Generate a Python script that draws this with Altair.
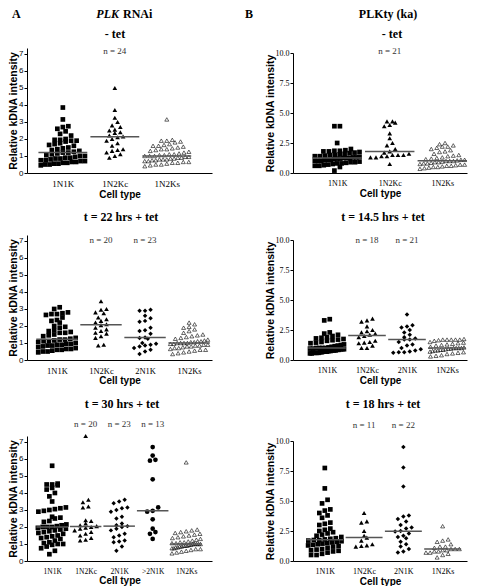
import altair as alt
import pandas as pd

SERIF = "Liberation Serif"
SANS = "Liberation Sans"

# ---------------- data ----------------
# Panel A (PLK RNAi), - tet
a1_cats = ["1N1K", "1N2Kc", "1N2Ks"]
a1_1N1K = [3.85, 3.15, 2.75, 2.7, 2.6, 2.45, 2.3, 2.2, 2.0, 1.95, 1.95, 1.9, 1.9, 1.85, 1.75, 1.7, 1.65, 1.6,
           1.5, 1.45, 1.4, 1.35, 1.3, 1.25, 1.2, 1.2, 1.15, 1.1, 1.05, 1.0, 1.0, 0.95, 0.9, 0.9, 0.85, 0.85,
           0.8, 0.75, 0.75, 0.7, 0.7, 0.65, 0.65, 0.6, 0.6, 0.55, 0.55, 0.5, 0.5, 0.45]
a1_1N2Kc = [5.0, 3.7, 3.25, 3.0, 2.8, 2.7, 2.55, 2.5, 2.4, 2.35, 2.2, 2.15, 2.1, 2.0, 1.9, 1.75, 1.6, 1.4,
            1.35, 1.3, 1.2, 1.1, 1.0, 0.9]
a1_1N2Ks = [3.15, 1.95, 1.9, 1.9, 1.85, 1.8, 1.7, 1.65, 1.6, 1.6, 1.55, 1.5, 1.45, 1.4, 1.4, 1.35, 1.3, 1.25,
            1.2, 1.15, 1.1, 1.1, 1.05, 1.05, 1.0, 1.0, 1.0, 0.95, 0.95, 0.9, 0.9, 0.85, 0.85, 0.8, 0.8, 0.8,
            0.75, 0.75, 0.7, 0.7, 0.65, 0.65, 0.6, 0.6, 0.55, 0.5, 0.5, 0.45, 0.4]
a1_n_cats = ["1N2Kc"]
a1_n_text = ["n = 24"]

# Panel A, t = 22 hrs + tet
a2_cats = ["1N1K", "1N2Kc", "2N1K", "1N2Ks"]
a2_1N1K = [3.1, 3.0, 2.8, 2.75, 2.7, 2.7, 2.65, 2.5, 2.35, 2.3, 2.2, 2.0, 1.95, 1.9, 1.75, 1.7, 1.65, 1.6,
           1.6, 1.5, 1.45, 1.4, 1.3, 1.25, 1.2, 1.2, 1.15, 1.1, 1.1, 1.05, 1.0, 0.95, 0.95, 0.9, 0.9, 0.85,
           0.85, 0.8, 0.75, 0.7, 0.65, 0.65, 0.6, 0.6, 0.55, 0.5, 0.5, 0.45]
a2_1N2Kc = [3.45, 3.0, 2.95, 2.8, 2.75, 2.5, 2.4, 2.3, 2.2, 2.1, 2.05, 1.9, 1.8, 1.7, 1.6, 1.55, 1.4, 1.3,
            0.9, 0.85]
a2_2N1K = [2.95, 2.9, 2.9, 2.6, 2.45, 2.3, 2.25, 1.9, 1.75, 1.7, 1.55, 1.32, 1.3, 1.25, 1.0, 0.95, 0.9,
           0.85, 0.8, 0.7, 0.6, 0.5, 0.35]
a2_1N2Ks = [2.2, 2.1, 1.95, 1.9, 1.8, 1.7, 1.6, 1.5, 1.45, 1.4, 1.35, 1.3, 1.25, 1.2, 1.15, 1.1, 1.1, 1.05,
            1.05, 1.0, 1.0, 1.0, 1.0, 0.95, 0.95, 0.9, 0.9, 0.85, 0.85, 0.8, 0.8, 0.75, 0.7, 0.7, 0.65, 0.6,
            0.6, 0.55, 0.5, 0.45, 0.4, 0.35]
a2_n_cats = ["1N2Kc", "2N1K"]
a2_n_text = ["n = 20", "n = 23"]

# Panel A, t = 30 hrs + tet
a3_cats = ["1N1K", "1N2Kc", "2N1K", ">2N1K", "1N2Ks"]
a3_1N1K = [5.6, 4.55, 4.5, 4.5, 4.45, 4.3, 4.2, 4.0, 3.8, 3.5, 3.15, 3.1, 3.05, 3.0, 2.95, 2.9, 2.6, 2.55,
           2.5, 2.35, 2.3, 2.15, 2.1, 2.05, 2.0, 2.0, 2.0, 1.95, 1.9, 1.85, 1.8, 1.75, 1.7, 1.65, 1.6, 1.5,
           1.45, 1.4, 1.35, 1.3, 1.2, 1.1, 1.05, 1.0, 1.0, 0.95, 0.85, 0.75, 0.6, 0.4]
a3_1N2Kc = [7.35, 3.6, 3.45, 3.2, 3.15, 2.4, 2.35, 2.2, 2.1, 2.05, 2.0, 1.95, 1.9, 1.8, 1.7, 1.6, 1.5, 1.35,
            1.25, 1.2]
a3_2N1K = [3.6, 3.5, 3.4, 3.15, 3.1, 3.0, 2.9, 2.6, 2.5, 2.2, 2.1, 2.05, 2.0, 1.9, 1.8, 1.6, 1.5, 1.4, 1.2,
           1.15, 1.1, 0.85, 0.6]
a3_gt2N1K = [6.7, 6.2, 5.95, 5.9, 4.8, 3.15, 2.95, 2.9, 2.45, 1.9, 1.7, 1.6, 1.3]
a3_1N2Ks = [5.8, 1.85, 1.8, 1.75, 1.7, 1.65, 1.6, 1.55, 1.5, 1.45, 1.4, 1.35, 1.3, 1.25, 1.2, 1.15, 1.1, 1.1,
            1.05, 1.05, 1.0, 1.0, 1.0, 1.0, 1.0, 0.95, 0.95, 0.9, 0.9, 0.9, 0.85, 0.85, 0.8, 0.8, 0.75, 0.75,
            0.7, 0.7, 0.65, 0.6, 0.55, 0.5, 0.45]
a3_n_cats = ["1N2Kc", "2N1K", ">2N1K"]
a3_n_text = ["n = 20", "n = 23", "n = 13"]

# Panel B (PLKty (ka)), - tet
b1_cats = ["1N1K", "1N2Kc", "1N2Ks"]
b1_1N1K = [3.9, 3.9, 2.5, 2.0, 1.9, 1.85, 1.85, 1.8, 1.8, 1.75, 1.7, 1.65, 1.6, 1.55, 1.5, 1.5, 1.45, 1.4,
           1.4, 1.35, 1.3, 1.3, 1.25, 1.25, 1.25, 1.2, 1.2, 1.15, 1.1, 1.1, 1.05, 1.0, 1.0, 1.0, 0.95, 0.9,
           0.9, 0.85, 0.8, 0.8, 0.75, 0.7, 0.65, 0.6, 0.6, 0.5, 0.2]
b1_1N2Kc = [4.3, 4.3, 4.2, 4.0, 3.9, 3.3, 2.9, 2.5, 2.3, 2.0, 1.8, 1.7, 1.6, 1.5, 1.5, 1.5, 1.4, 1.4, 1.3,
            1.3, 0.75]
b1_1N2Ks = [2.5, 2.4, 2.3, 2.2, 2.2, 2.1, 2.0, 1.9, 1.8, 1.75, 1.6, 1.5, 1.45, 1.4, 1.3, 1.25, 1.2, 1.15,
            1.1, 1.1, 1.05, 1.0, 1.0, 1.0, 0.95, 0.9, 0.9, 0.85, 0.8, 0.8, 0.75, 0.7, 0.7, 0.65, 0.6, 0.6,
            0.55, 0.5, 0.5, 0.45, 0.4, 0.35]
b1_n_cats = ["1N2Kc"]
b1_n_text = ["n = 21"]

# Panel B, t = 14.5 hrs + tet
b2_cats = ["1N1K", "1N2Kc", "2N1K", "1N2Ks"]
b2_1N1K = [3.4, 3.3, 2.3, 2.2, 2.1, 2.0, 1.9, 1.85, 1.8, 1.75, 1.7, 1.65, 1.6, 1.5, 1.45, 1.4, 1.3, 1.25,
           1.2, 1.15, 1.1, 1.05, 1.0, 1.0, 1.0, 1.0, 0.95, 0.95, 0.9, 0.9, 0.9, 0.85, 0.85, 0.8, 0.8, 0.8,
           0.75, 0.75, 0.7, 0.7, 0.7, 0.65, 0.65, 0.6, 0.6, 0.6, 0.6, 0.55, 0.55]
b2_1N2Kc = [3.45, 3.3, 3.2, 2.8, 2.5, 2.4, 2.3, 2.2, 2.1, 2.0, 1.9, 1.6, 1.5, 1.45, 1.4, 1.2, 1.0, 1.0]
b2_2N1K = [3.8, 2.9, 2.8, 2.7, 2.5, 2.3, 2.1, 1.9, 1.8, 1.7, 1.7, 1.5, 1.3, 1.2, 1.0, 0.9, 0.8, 0.7, 0.65,
           0.65, 0.6]
b2_1N2Ks = [1.75, 1.7, 1.7, 1.7, 1.7, 1.7, 1.65, 1.6, 1.5, 1.45, 1.4, 1.35, 1.3, 1.25, 1.2, 1.1, 1.05, 1.0,
            1.0, 1.0, 1.0, 0.95, 0.95, 0.9, 0.85, 0.85, 0.8, 0.8, 0.75, 0.7, 0.65, 0.6, 0.55, 0.5, 0.4,
            0.35, 0.3]
b2_n_cats = ["1N2Kc", "2N1K"]
b2_n_text = ["n = 18", "n = 21"]

# Panel B, t = 18 hrs + tet
b3_cats = ["1N1K", "1N2Kc", "2N1K", "1N2Ks"]
b3_1N1K = [7.75, 6.05, 5.1, 4.8, 4.3, 4.2, 4.0, 3.8, 3.6, 3.2, 3.1, 3.0, 2.7, 2.6, 2.5, 2.4, 2.3, 2.2, 2.1,
           2.0, 1.9, 1.85, 1.8, 1.75, 1.75, 1.7, 1.65, 1.6, 1.55, 1.5, 1.45, 1.4, 1.35, 1.3, 1.25, 1.2, 1.1,
           1.0, 0.95, 0.9, 0.85, 0.8, 0.7, 0.6, 0.5, 0.5]
b3_1N2Kc = [4.0, 3.3, 3.2, 2.5, 2.1, 1.95, 1.7, 1.4, 1.3, 1.25, 1.2]
b3_2N1K = [9.5, 7.8, 6.2, 3.8, 3.7, 3.5, 3.3, 3.0, 2.8, 2.7, 2.5, 2.45, 2.3, 2.1, 2.0, 1.9, 1.6, 1.4, 1.2,
           1.0, 0.8, 0.7]
b3_1N2Ks = [2.9, 1.8, 1.7, 1.6, 1.4, 1.2, 1.2, 1.1, 1.0, 1.0, 1.0, 0.9, 0.9, 0.8, 0.8, 0.7, 0.7, 0.6, 0.5,
            0.3]
b3_n_cats = ["1N2Kc", "2N1K"]
b3_n_text = ["n = 11", "n = 22"]

# ---------------- styling ----------------
MARKS = {
    "1N1K": dict(shape="square", filled=True, fill="black", size=22),
    "1N2Kc": dict(shape="triangle-up", filled=True, fill="black", size=22),
    "2N1K": dict(shape="diamond", filled=True, fill="black", size=20),
    ">2N1K": dict(shape="circle", filled=True, fill="black", size=22),
    "1N2Ks": dict(shape="triangle-up", filled=False, stroke="black", strokeWidth=0.6, size=16),
}


def swarm(values, ppu, step, row_px=4.5, gap_px=5.5):
    """Deterministic Prism-like row layout: horizontal offsets (in category units)."""
    vals = sorted(values)
    rows, cur, start = [], [], None
    for v in vals:
        if cur and (v - start) * ppu < row_px:
            cur.append(v)
        else:
            if cur:
                rows.append(cur)
            cur, start = [v], v
    rows.append(cur)
    out = []
    maxw = 0.85 * step
    for r in rows:
        m = len(r)
        g = gap_px if m < 2 else min(gap_px, maxw / (m - 1))
        for j, v in enumerate(r):
            out.append((v, (j - (m - 1) / 2) * g / step))
    return out


H = 125  # plot height of every panel


def panel(cats, series, n_cats, n_text, *, width, ymax, yrange_top, yticks, yfmt, ylabfont,
          xdom, catsize, title, tx, ty, ny, headers=None):
    step = width / (xdom[1] - xdom[0])
    ppu = (H - yrange_top) / ymax
    rows = []
    for i, c in enumerate(cats):
        for v, dx in swarm(series[c], ppu, step):
            rows.append({"cat": c, "idx": i, "value": v, "dx": dx})
    df = pd.DataFrame(rows)
    xscale = alt.Scale(domain=xdom, nice=False, zero=False)
    yscale = alt.Scale(domain=[0, ymax], nice=False, zero=True, range=[H, yrange_top])
    label_expr = "[" + ",".join("'%s'" % c for c in cats) + "][datum.value]"
    xaxis = alt.Axis(values=list(range(len(cats))), labelExpr=label_expr, title="Cell type", ticks=False,
                     labelFont=SERIF, labelFontSize=catsize, labelPadding=6, labelColor="black",
                     titleFont=SANS, titleFontSize=10, titleFontWeight="bold", titlePadding=1,
                     titleColor="black", labelOverlap=False, labelFlush=False, domainColor="black",
                     grid=False)
    yaxis = alt.Axis(values=yticks, format=yfmt, title="Relative kDNA intensity", grid=False,
                     labelFont=ylabfont, labelFontSize=8, labelColor="black", labelPadding=1,
                     tickSize=3, tickColor="black", domainColor="black", titleFont=SANS,
                     titleFontSize=10.5, titleFontWeight="bold", titleColor="black", titlePadding=0,
                     labelFlush=False, labelOverlap=False)
    base = alt.Chart(df).transform_calculate(xpos="datum.idx + datum.dx")
    layers = []
    for c in cats:
        layers.append(
            base.transform_filter(alt.datum.cat == c)
            .mark_point(opacity=1, **MARKS[c])
            .encode(x=alt.X("xpos:Q", scale=xscale, axis=xaxis),
                    y=alt.Y("value:Q", scale=yscale, axis=yaxis))
        )
    med = (alt.Chart(df)
           .transform_aggregate(med="median(value)", groupby=["cat", "idx"])
           .transform_calculate(xa="datum.idx - 0.47", xb="datum.idx + 0.47")
           .mark_rule(color="#555555", strokeWidth=1.5)
           .encode(x=alt.X("xa:Q", scale=xscale, axis=xaxis), x2="xb:Q",
                   y=alt.Y("med:Q", scale=yscale, axis=yaxis)))
    layers.append(med)
    ndf = pd.DataFrame({"idx": [cats.index(c) for c in n_cats], "t": n_text})
    ntext = (alt.Chart(ndf).mark_text(font=SERIF, fontSize=9, color="#333333", baseline="middle")
             .encode(x=alt.X("idx:Q", scale=xscale, axis=xaxis), y=alt.value(ny), text="t:N"))
    layers.append(ntext)
    texts = [(title, tx, ty, "center", "normal")] + (headers or [])
    for (txt, hx, hy, align, style) in texts:
        layers.append(
            alt.Chart(pd.DataFrame({"t": [txt]}))
            .mark_text(font=SERIF, fontSize=12, fontWeight="bold", fontStyle=style, align=align,
                       baseline="middle", color="black")
            .encode(x=alt.value(hx), y=alt.value(hy), text="t:N")
        )
    return alt.layer(*layers).properties(width=width, height=H)


A_W, A_MAX, A_TOP = 185, 7.35, 0
B_W, B_MAX, B_TOP = 174, 10.0, 5
A_TICKS = [0, 1, 2, 3, 4, 5, 6, 7]
B_TICKS = [0, 2.5, 5, 7.5, 10]
A_KW = dict(width=A_W, ymax=A_MAX, yrange_top=A_TOP, yticks=A_TICKS, yfmt="d", ylabfont=SANS)
B_KW = dict(width=B_W, ymax=B_MAX, yrange_top=B_TOP, yticks=B_TICKS, yfmt=".1f", ylabfont=SERIF)

pA1 = panel(a1_cats, {"1N1K": a1_1N1K, "1N2Kc": a1_1N2Kc, "1N2Ks": a1_1N2Ks}, a1_n_cats, a1_n_text,
            xdom=[-0.69, 2.87], catsize=9, title="- tet", tx=88, ty=-14, ny=3,
            headers=[("A", -15, -34, "left", "normal"), ("PLK", 92, -34, "right", "italic"),
                     ("RNAi", 96, -34, "left", "normal")], **A_KW)
pB1 = panel(b1_cats, {"1N1K": b1_1N1K, "1N2Kc": b1_1N2Kc, "1N2Ks": b1_1N2Ks}, b1_n_cats, b1_n_text,
            xdom=[-0.84, 2.47], catsize=8, title="- tet", tx=99, ty=-14, ny=3,
            headers=[("B", -48, -34, "left", "normal"), ("PLKty (ka)", 95, -34, "center", "normal")],
            **B_KW)
pA2 = panel(a2_cats, {"1N1K": a2_1N1K, "1N2Kc": a2_1N2Kc, "2N1K": a2_2N1K, "1N2Ks": a2_1N2Ks},
            a2_n_cats, a2_n_text, xdom=[-0.68, 3.52], catsize=8.5, title="t = 22 hrs + tet",
            tx=94, ty=-18, ny=5, **A_KW)
pB2 = panel(b2_cats, {"1N1K": b2_1N1K, "1N2Kc": b2_1N2Kc, "2N1K": b2_2N1K, "1N2Ks": b2_1N2Ks},
            b2_n_cats, b2_n_text, xdom=[-0.85, 3.5], catsize=8, title="t = 14.5 hrs + tet",
            tx=90, ty=-18, ny=5, **B_KW)
pA3 = panel(a3_cats, {"1N1K": a3_1N1K, "1N2Kc": a3_1N2Kc, "2N1K": a3_2N1K, ">2N1K": a3_gt2N1K,
                      "1N2Ks": a3_1N2Ks}, a3_n_cats, a3_n_text, xdom=[-0.75, 4.77], catsize=7.5,
            title="t = 30 hrs + tet", tx=95, ty=-32, ny=-12, **A_KW)
pB3 = panel(b3_cats, {"1N1K": b3_1N1K, "1N2Kc": b3_1N2Kc, "2N1K": b3_2N1K, "1N2Ks": b3_1N2Ks},
            b3_n_cats, b3_n_text, xdom=[-0.81, 3.62], catsize=8, title="t = 18 hrs + tet",
            tx=90, ty=-32, ny=-11, **B_KW)

chart = alt.concat(
    pA1, pB1, pA2, pB2, pA3, pB3, columns=2,
    spacing={"row": 12, "column": 33},
).properties(padding=0, align="each").configure_view(stroke=None)

chart.save("out.html", embed_options={"renderer": "svg", "actions": False})
